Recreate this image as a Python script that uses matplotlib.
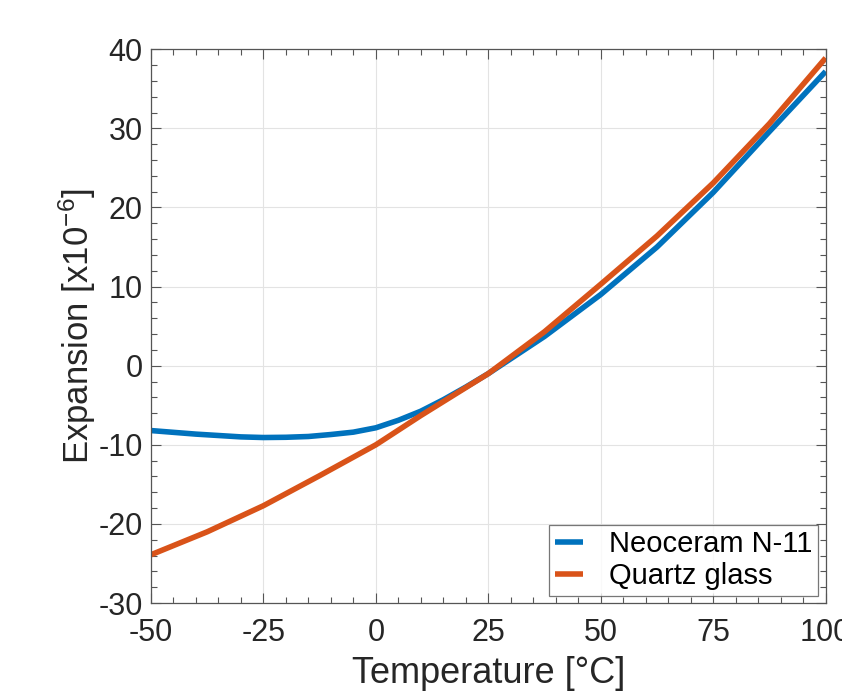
import matplotlib
matplotlib.use("Agg")
import matplotlib.pyplot as plt
from matplotlib.ticker import MultipleLocator

plt.rcParams['font.family'] = ['Liberation Sans', 'DejaVu Sans']
plt.rcParams['mathtext.fontset'] = 'custom'
plt.rcParams['mathtext.rm'] = 'Liberation Sans'
plt.rcParams['mathtext.it'] = 'Liberation Sans'
plt.rcParams['axes.unicode_minus'] = False

# Neoceram N-11
t_neo = [-50, -40, -30, -25, -20, -15, -10, -5, 0, 5, 10, 15, 20, 25, 37.5, 50, 62.5, 75, 87.5, 100]
e_neo = [-8.2, -8.65, -9.0, -9.08, -9.05, -8.95, -8.7, -8.4, -7.85, -6.9, -5.75, -4.3, -2.7, -1.0, 3.7, 9.0, 15.0, 21.9, 29.6, 37.2]

# Quartz glass
t_qtz = [-50, -37.5, -25, -12.5, 0, 10, 25, 37.5, 50, 62.5, 75, 87.5, 100]
e_qtz = [-23.9, -21.0, -17.7, -13.9, -10.0, -6.3, -1.0, 4.3, 10.3, 16.4, 23.1, 30.6, 38.9]

x_ticks = [-50, -25, 0, 25, 50, 75, 100]
y_ticks = [-30, -20, -10, 0, 10, 20, 30, 40]

fig = plt.figure(figsize=(8.42, 6.92), dpi=100)
ax = fig.add_axes([0.1793, 0.1286, 0.8013, 0.8002])

ax.plot(t_neo, e_neo, color='#0072BD', lw=4, label='Neoceram N-11',
        solid_capstyle='butt', solid_joinstyle='round')
ax.plot(t_qtz, e_qtz, color='#D95319', lw=4, label='Quartz glass',
        solid_capstyle='butt', solid_joinstyle='round')

ax.set_xlim(-50, 100)
ax.set_ylim(-30, 40)
ax.set_xticks(x_ticks)
ax.set_yticks(y_ticks)
ax.xaxis.set_minor_locator(MultipleLocator(5))
ax.yaxis.set_minor_locator(MultipleLocator(2))
ax.tick_params(which='both', direction='in', top=True, right=True, colors='#262626',
               labelsize=22)
ax.tick_params(axis='x', which='major', pad=11)
ax.tick_params(axis='y', which='major', pad=6)
ax.tick_params(which='major', length=7, width=0.8, color='#555555')
ax.tick_params(which='minor', length=4, width=0.8, color='#555555')
for s in ax.spines.values():
    s.set_color('#555555')
    s.set_linewidth(0.9)

ax.grid(True, which='major', color='#e3e3e3', lw=0.8)
ax.set_axisbelow(True)

ax.set_xlabel('Temperature [°C]', fontsize=26, color='#262626', labelpad=5.5)
ax.set_ylabel('Expansion [x10$^{-6}$]', fontsize=25, color='#262626', labelpad=0)

leg = ax.legend(loc='lower right', fontsize=21, frameon=True, fancybox=False,
                handlelength=0.97, handletextpad=0.9, borderpad=0.2,
                borderaxespad=0.25, labelspacing=0.12)
leg.get_frame().set_edgecolor('#555555')
leg.get_frame().set_linewidth(0.9)

fig.savefig('out.png', dpi=100)
